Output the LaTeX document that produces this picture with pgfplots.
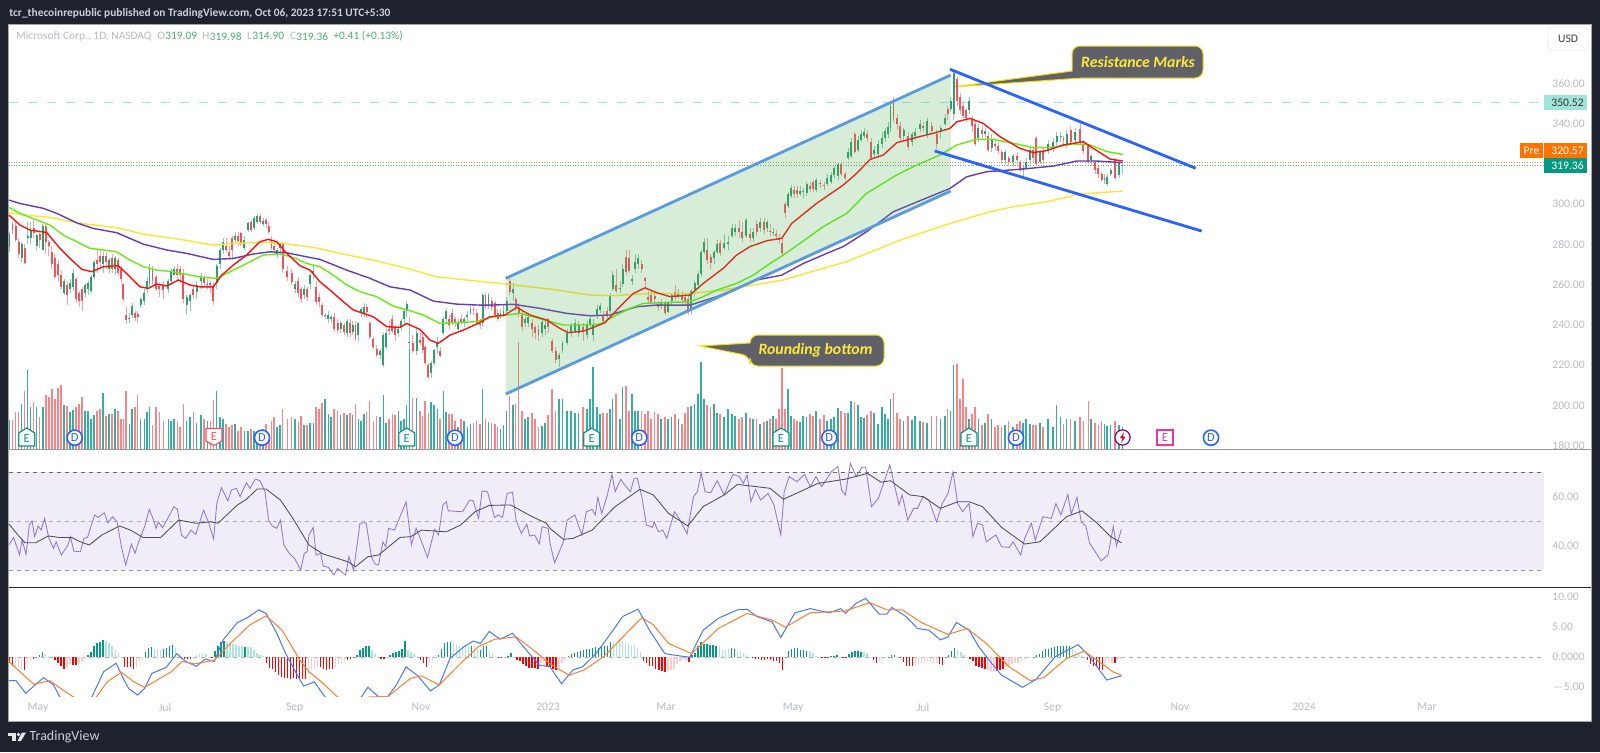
\documentclass[border=0pt]{standalone}
\usepackage{fontspec}
\usepackage{pgfplots}
\usepackage{pgfplotstable}
\pgfplotsset{compat=1.18}
\setmainfont{Carlito}
\definecolor{tvdark}{HTML}{1E222D}
\definecolor{tvlab}{HTML}{B8BBC4}
\definecolor{tvhead}{HTML}{CDD0D8}
\definecolor{upc}{HTML}{2E9E6E}
\definecolor{dnc}{HTML}{F2525C}
\definecolor{upv}{HTML}{35AEA2}
\definecolor{dnv}{HTML}{F88488}
\definecolor{legup}{HTML}{4CAF6E}
\definecolor{rsiband}{HTML}{F0EDF8}
\definecolor{chan}{HTML}{4CAF50}
\definecolor{chanline}{HTML}{5A9BE0}
\definecolor{downline}{HTML}{2962FF}
\definecolor{ma20}{HTML}{FF1010}
\definecolor{ma50}{HTML}{66EE10}
\definecolor{ma100}{HTML}{673AB7}
\definecolor{ma200}{HTML}{FFE433}
\definecolor{hldash}{HTML}{A0E4D9}
\definecolor{calloutbg}{HTML}{5F6068}
\definecolor{calloutln}{HTML}{F5DC10}
\definecolor{calloutxt}{HTML}{FFE93B}
\definecolor{histg}{HTML}{089981}
\definecolor{histlg}{HTML}{ACE5DC}
\definecolor{histr}{HTML}{FF0000}
\definecolor{histp}{HTML}{FCCBCD}

% x o c l h v, x in bar position on the time scale, v in scaled shares
\pgfplotstableread[row sep=\\]{
x o c l h v\\
9.5 278.5 285 276 286 29\\ 12.5 290 287 285 291 29\\ 15.6 289 282 281 291 37\\ 18.6 281 275 273 283 37\\ 21.6 273 280 271 281 45\\
24.6 278 270.5 270 280 58\\ 27.7 283 284 280 291 79\\ 30.7 283 287 280 291 42\\ 33.7 288 285.5 283 292 47\\ 36.7 279 284.5 277 285 42\\
39.7 285 282 278 286 32\\ 42.8 277 289 277 290 42\\ 45.8 289 281 275 290 54\\ 48.8 281 279 274 282 52\\ 51.8 276 270 268 279 60\\
54.8 273 264 263 275 50\\ 57.9 270 265 262 272 61\\ 60.9 265 259 258 267 64\\ 63.9 256 262 255 263 44\\ 66.9 260 255 250 262 43\\
70 258 261 256 263 37\\ 73 259 266 257 268 39\\ 76 263 253 251 264 42\\ 79 256 252 249 257 45\\ 82 258 252 247 259 52\\
85 256 260 254 261 38\\ 88 258 261 255 262 38\\ 91 257 264 256 265 30\\ 94 264 271 263 272 34\\ 97 272 270 266 277 38\\
100 274 271 268 277 40\\ 103 270 274 266 276 56\\ 106 274 271 268 276 33\\ 109 268 272 266 273 35\\ 112 273 268 266 275 35\\
115 268 273 265 274 40\\ 118 272 266 265 273 38\\ 121 268 263 261 269 30\\ 123.3 260.5 253 252 261 30\\ 126 245 242.5 240.5 249 58\\
129.3 243 243.6 241 246 25\\ 132 245 249.5 243.5 251 40\\ 135 246 243.5 242 247 42\\ 137.7 245.5 244 241 247 54\\ 140.7 250 253 248.5 254 30\\
144.3 252 256 250 258 30\\ 147 258 262 256 264 37\\ 149.5 261 268 259 270 42\\ 152.5 268 262 260 269 24\\ 156 264 258 257 265 42\\
159.3 259.5 258 254 261 37\\ 163.3 260 257.5 253 262 28\\ 168.3 258 262 256 263 30\\ 171 262 267 260 268 28\\ 174 265 268 265 269 30\\
177.3 268 265 263 270 28\\ 180 268 265 261 269 22\\ 183.3 266 253 251 268 45\\ 186.7 250 254 245 255 28\\ 190 252 255 247 256 32\\
193.3 258 255 253 260 37\\ 196.7 256.5 260 253 262 26\\ 201 262 264 258 266 34\\ 204 264 261 259 265 30\\ 207.3 260 260.5 258 263 28\\
210.3 261 260 256 262 28\\ 213.3 259.5 252 250 261 49\\ 216.7 261 269 258 270 58\\ 220 270 277 268 278 32\\ 222.9 277 281 275 283 30\\
226 279 277 276 283 25\\ 228.9 276 274 272 279 22\\ 231.9 283 277 272 284 24\\ 235 282 284 280 286 25\\ 237.9 284 281.5 279 286 18\\
240.8 285.5 280 279 286 22\\ 244.3 278 282 277 284 18\\ 248 287 290.5 286 291 18\\ 251 291 287 286 292 20\\ 254 288 293 287 294 18\\
257 291 294 290 295 16\\ 260 294 291 290 295 17\\ 263 290 291.5 289 293 20\\ 266 292 290 288 293 25\\ 268.8 289 286 285 291 15\\
271.5 282 278 277 284 28\\ 274 279 277 275 281 32\\ 276.9 275 277 273 278 22\\ 280 278 280 275 281 24\\ 282.7 280 268 266 281 40\\
287.3 267 264 262 269 30\\ 291.7 266 261.5 260 268 32\\ 295 258 260.5 256 262 30\\ 298.3 262 256 254 264 27\\ 301 258 253 251 259 33\\
304 255 258 253 260 24\\ 306.9 258 254 252 259 24\\ 310 260.5 265 258 266 26\\ 313.3 265.5 267 263 269 26\\ 315.9 259 251.5 250 262 42\\
319 254 251.5 249 256 40\\ 322 250 245 244 251 46\\ 325 244.5 245 243 246 50\\ 328.3 243 245 241 247 35\\ 331.2 243 244 241 245 32\\
334 244 238 237 246 40\\ 337.7 241 237.5 236 243 38\\ 340.7 238 241 236 242 34\\ 344 240 236.5 235 241 36\\ 346.9 236 242 234 243 34\\
350 241 236 234 243 36\\ 352.7 236.5 240 235 242 34\\ 355.4 240 233 232 242 45\\ 358.3 235 241 232 241.5 30\\ 361 246 248 244 249 28\\
364 246 249 244 251 35\\ 366.7 249 246.5 244 250.5 37\\ 369.7 241 234 233 242 48\\ 373.3 233 229 228 234 28\\ 376.7 228 225 224 230 33\\
380 225 227 223 228 32\\ 383.3 220 235 219 236 54\\ 386 229 236 228 238 26\\ 389 238 237 235 242 30\\ 392.3 243 237 236 245 35\\
395 239 235 232 240 34\\ 398.3 236 238 234 240 38\\ 401 239 242 237 243 28\\ 404 243 247 240 248 30\\ 406.7 247 250.5 244 252 44\\
409.3 231 231.3 228 244 102\\ 412.7 231 227 226 235 51\\ 416.7 227 236 225 238 51\\ 420 232.5 231 230 236 38\\ 422.7 234 227.5 226 237 33\\
425 229 221 220 230 48\\ 428.3 220 214 213 221 36\\ 431 216 221 213.5 222 47\\ 434 221 227.5 220 228 44\\ 437.3 229 231 226 234 40\\
440 227 224.5 224 229 30\\ 443.3 236 243 235 244 58\\ 446 243 247 241 248 37\\ 449 243 240 238 245 35\\ 452 246 241.5 240 248 35\\
455 243 241 239 244 28\\ 458 238 241.5 237 243 22\\ 461 243 241.5 240 245 30\\ 464 241 243 239 244 28\\ 467.3 244 245 242 247 22\\
470.5 246 248 245 250 25\\ 473.5 248 247 245 249 26\\ 476.7 246 241 240 248 28\\ 480 241.5 240 238 243 25\\ 482.7 241 255 239 256 60\\
485.5 255 250 248 256 30\\ 488.5 250 255 248 256 27\\ 491.7 252 249 247 254 26\\ 495 251 245 244 252 25\\ 497.7 246 243 242 248 22\\
500.5 244 246 243 248 20\\ 503.5 245 247 244 250 24\\ 506.7 247 252 246 254 38\\ 509.7 262 256.5 255 264 53\\ 513 256 258 252 261 44\\
515.7 253 249 247 254 45\\ 518.7 249 246 244 251 107\\ 522 245 239 237 247 38\\ 525 241 243 239 244 30\\ 528 241 244 239 246 32\\
532 241 238 234 243 36\\ 535 239 236 233 240 30\\ 538.5 238 235 232 240 22\\ 542 236 241.5 234 243 23\\ 545 238 240 235 242 26\\
548 243 239 236 243.5 34\\ 552 232 227 226 233 60\\ 555.7 227 222.5 221 229 38\\ 559 223 225 219 226 50\\ 562.5 227.5 231 226 232 50\\
567 231 236 230 238 38\\ 571 236 239.5 234 241 38\\ 575 237 241 236 243 36\\ 578.7 236 240 234 242 36\\ 583 239 236.5 232 241 42\\
587 235 240 233 242 40\\ 590 240 243 238 245 50\\ 593 235 240 232 243 82\\ 597 245 248 243 250 42\\ 600 247.5 249.5 246 251 35\\
603 245 242 241 247 36\\ 607 247 245 243 249 36\\ 610 247 255 246 256 40\\ 612.7 258 265 257 267 50\\ 616 260 257 256 268 55\\
620 258 258.3 256 262 30\\ 622.7 260.5 268 259 270 62\\ 626 273.8 266.5 265 277 63\\ 629 273 267 266 277 38\\ 632 262 263 260 265 55\\
635 268 271 266 275 38\\ 638 270 273 268 275 38\\ 641.7 270 268 266 272 38\\ 645 263.5 262 258 264 35\\ 648 254 252.5 251 257 38\\
651 255 251.5 250 257 30\\ 654.7 254.5 253 250 257 37\\ 658 250.5 249 247 252 35\\ 661 249.5 251 248 253 30\\ 665 251 246 245 252 32\\
668 246.5 251 246 252 30\\ 671.7 252 255 250 256 32\\ 675 256.5 254 252 260 35\\ 678.3 254 256 253 258 30\\ 682 255 252.5 250 257 25\\
685 254 252 250 256 36\\ 688 253 247 245 255 42\\ 691 247 257 245 258 43\\ 694.7 257 261 254 262 45\\ 698 260 265.5 258 267 55\\
701 265.5 276 264 277 87\\ 704 276 281 275 283 50\\ 707 277 272 270 283 44\\ 710.7 273.8 270.5 268 275 42\\ 714 273 276 270 277 45\\
717 276 280 275 282 36\\ 720 280.5 275.5 274 282 35\\ 724 278 280.5 277 285 32\\ 728 280 281 277 284 40\\ 732 284 288 283 290 35\\
735 286 288 284 290 33\\ 739 288 286 283 292 30\\ 742 286 283 281 291 32\\ 746 284 292 283 293 36\\ 750 285 283 281 288 31\\
753 283 286 281 288 30\\ 756.7 290 286 284 292 30\\ 760 288 291 286 293 25\\ 764 291 287 285 293 27\\ 767 288 291 286 292 28\\
770 286.5 286 284 290 30\\ 773 286 286.3 284 288 33\\ 776 285 284 282 287 30\\ 779 283 282 280 285 40\\ 782 280.5 275.5 274 284 81\\
785 300 295.5 293 301 40\\ 788 299 305 298 306 60\\ 791 304 308 303 309.5 33\\ 794 307 305 303 309 30\\ 797 307 305 303 309 28\\
800 305 306.5 304 309 27\\ 803 306 306.3 303 308 33\\ 806.7 305.5 310 304 311 32\\ 810 309 307.5 306 311 35\\ 813 311 307.5 306 312 33\\
816 307 312 306 313 38\\ 820 310.5 310 308 312 30\\ 824 309.5 309 307 311 34\\ 827 310 313 309 315 28\\ 831 311 314.5 310 316 30\\
834 314.5 318 313 319 32\\ 838 314 320 312 321 41\\ 841 320 315 314 321 38\\ 845 315 313 312 316 36\\ 848 323 326 322 328 36\\
851 324 331 323 333 48\\ 854.7 335 326 325 336 47\\ 858 327 332 326 334 44\\ 861 332 335 331 337 32\\ 864 334 336 333 338 31\\
867 335 333 331 337 34\\ 871 331 323 322 333 38\\ 874 325 327 323 329 36\\ 878 325 330 323 332 25\\ 882 330 333 328 336 42\\
885 333 336.5 331 338 35\\ 888 335 338.5 333 341 30\\ 890.5 338 349 336 351 50\\ 893.5 351 342.5 341 353 56\\ 897 343 340 337 345 36\\
900 339 333 331 341 30\\ 903.7 334 337 332 338 28\\ 908 334 328.5 327 336 33\\ 912 331 335 329 336 29\\ 915 334 336 332 338 33\\
920 337.5 340 336 342 28\\ 923 339 338 336 341 27\\ 927 335 341.5 333 343 26\\ 931.7 339 336.5 335 341 33\\ 936.7 335 330 327.5 337 33\\
940.7 336 338 333 339 30\\ 945 340 343 339 345 33\\ 947.7 347.5 345 342 349 40\\ 950.7 347.5 351 346 353 38\\ 953.7 345 365 342 367 84\\
957 362 351 349 363 85\\ 960 353 347 345 355 50\\ 963 349 344 343 351 70\\ 966 347 343 341 348 42\\ 969 347 351 345 353 30\\
972 342.5 339 336 344 35\\ 975 340 330 329 342 42\\ 978.3 333 338 331 340 30\\ 982 337 335 332 339 24\\ 985 335 336.5 333 338 26\\
988 334 327 326 336 35\\ 991.7 328 332 326 335 30\\ 995 330 329 327 332 22\\ 998 329 326.5 325 331 24\\ 1001.7 326 322 320 327 22\\
1005 322 326 320 327 24\\ 1008.7 323 321 319 324 28\\ 1013 321 324 319 325 22\\ 1017 324 322 320 326 25\\ 1020 321 317 316 322 28\\
1023 317 318 313 319 26\\ 1026 318 321 317 323 30\\ 1030 322 327 320 328 25\\ 1033 327 323 321 329 24\\ 1036 333 320 319 334 24\\
1040 321 326 320 327 26\\ 1043 326 322 320 328 22\\ 1048 327 330 325 332 30\\ 1053 328 331 326 333 22\\ 1056.7 331 334 329 336 44\\
1060.7 333.5 333.8 331 336 32\\ 1063.5 333 332 330 334 25\\ 1066.7 330 335 328 337 30\\ 1070.7 337 331 330 339 30\\ 1075 332 336 330 338 28\\
1080 337.5 331 330 341 32\\ 1083.3 330 326.5 325 332 28\\ 1088.3 329 321 320 330 48\\ 1091.2 322 324 319 325 30\\ 1095 321 317 315 322 26\\
1098.3 318 315 313 319 24\\ 1101.7 315 312 311 316 28\\ 1104.5 312 313 310 315 25\\ 1107 310 313.5 309 315 23\\ 1110.7 315 317 314 318 24\\
1115 322 313 312 323 28\\ 1119 314.5 320.5 313 322 24\\ 1122.5 319.09 319.36 314.9 319.98 22\\
}\candles

% i h k, k: 0 rising above zero, 1 falling above zero, 2 falling below, 3 rising below
\pgfplotstableread[row sep=\\]{
i h k\\
0 -1.0 2\\ 1 -1.4 2\\ 2 -1.8 3\\ 3 -2.0 3\\ 4 -1.9 3\\ 5 -2.2 2\\ 6 -1.0 3\\ 7 -0.6 3\\ 8 -0.3 2\\ 9 0.1 0\\ 10 0.3 0\\ 11 0.9 0\\ 12 0.5 1\\ 13 0.2 1\\ 14 0.1 1\\
15 -0.5 2\\ 16 -1.0 2\\ 17 -1.4 2\\ 18 -2.0 2\\ 19 -1.6 3\\ 20 -1.2 3\\ 21 -1.3 2\\ 22 -1.3 2\\ 23 -1.1 3\\ 24 -0.7 3\\ 25 -0.3 3\\ 26 0.3 0\\ 27 0.9 0\\ 28 1.9 0\\ 29 2.3 0\\
30 2.6 0\\ 31 2.8 0\\ 32 2.7 1\\ 33 2.4 1\\ 34 1.8 1\\ 35 1.3 1\\ 36 0.9 1\\ 37 0.1 1\\ 38 -1.6 2\\ 39 -1.6 2\\ 40 -1.7 2\\ 41 -1.9 2\\ 42 -1.6 3\\ 43 -0.8 3\\ 44 -0.4 3\\
45 0.8 0\\ 46 1.6 0\\ 47 1.7 0\\ 48 1.4 1\\ 49 1.3 1\\ 50 1.2 1\\ 51 1.3 0\\ 52 1.6 0\\ 53 1.9 0\\ 54 2.0 0\\ 55 1.5 1\\ 56 0.2 1\\ 57 -0.3 2\\ 58 -0.3 2\\ 59 -0.3 2\\
60 -0.3 2\\ 61 -0.3 3\\ 62 0.3 1\\ 63 0.6 1\\ 64 0.7 1\\ 65 0.5 1\\ 66 -0.1 3\\ 67 -0.2 2\\ 68 1.0 0\\ 69 1.8 0\\ 70 2.5 0\\ 71 2.7 0\\ 72 2.6 1\\ 73 2.4 1\\ 74 2.2 1\\
75 2.0 1\\ 76 1.9 1\\ 77 1.9 1\\ 78 1.7 0\\ 79 1.7 1\\ 80 1.7 1\\ 81 1.2 1\\ 82 0.7 1\\ 83 0.4 1\\ 84 0.2 1\\ 85 -1.0 2\\ 86 -1.8 2\\ 87 -1.9 2\\ 88 -2.4 2\\ 89 -2.9 2\\
90 -3.3 2\\ 91 -3.4 2\\ 92 -3.5 2\\ 93 -3.6 2\\ 94 -3.5 2\\ 95 -3.6 2\\ 96 -3.6 2\\ 97 -3.7 2\\ 98 -3.7 2\\ 99 -2.7 3\\ 100 -2.2 3\\ 101 -1.9 3\\ 102 -1.6 3\\ 103 -1.7 2\\ 104 -1.9 2\\
105 -2.1 2\\ 106 -2.0 2\\ 107 -2.0 2\\ 108 -1.6 3\\ 109 -1.2 3\\ 110 -0.9 3\\ 111 -0.7 3\\ 112 -0.5 2\\ 113 -0.3 2\\ 114 -0.2 2\\ 115 0.4 0\\ 116 1.2 0\\ 117 1.6 0\\ 118 1.8 0\\ 119 1.9 0\\
120 1.2 1\\ 121 0.6 1\\ 122 0.1 1\\ 123 -0.3 2\\ 124 -0.3 2\\ 125 -0.2 3\\ 126 0.4 0\\ 127 0.7 0\\ 128 0.9 0\\ 129 1.1 0\\ 130 1.4 0\\ 131 2.7 0\\ 132 1.2 1\\ 133 0.9 1\\ 134 0.6 1\\
135 0.2 1\\ 136 -0.4 2\\ 137 -1.0 2\\ 138 -1.6 2\\ 139 -0.9 3\\ 140 -0.5 3\\ 141 -0.2 3\\ 142 0.4 0\\ 143 1.4 0\\ 144 2.3 0\\ 145 2.5 0\\ 146 2.6 0\\ 147 2.3 1\\ 148 2.0 1\\ 149 1.9 1\\
150 1.8 1\\ 151 1.8 1\\ 152 1.8 1\\ 153 1.9 0\\ 154 1.8 1\\ 155 1.4 1\\ 156 1.2 0\\ 157 1.8 0\\ 158 1.8 0\\ 159 1.0 1\\ 160 0.7 1\\ 161 0.2 1\\ 162 -0.1 2\\ 163 -0.2 2\\ 164 -0.1 3\\
165 0.2 0\\ 166 0.7 0\\ 167 0.1 1\\ 168 -0.4 2\\ 169 -0.7 2\\ 170 -1.2 2\\ 171 -1.4 2\\ 172 -1.8 2\\ 173 -1.8 2\\ 174 -1.8 2\\ 175 -1.9 2\\ 176 -1.0 3\\ 177 -0.8 3\\ 178 -1.4 2\\ 179 -1.6 2\\
180 -2.0 2\\ 181 -2.1 2\\ 182 -1.6 3\\ 183 -1.0 3\\ 184 -0.5 3\\ 185 0.2 0\\ 186 0.6 0\\ 187 0.7 0\\ 188 0.9 0\\ 189 1.1 0\\ 190 1.2 0\\ 191 1.3 0\\ 192 1.3 0\\ 193 1.6 0\\ 194 1.7 0\\
195 1.6 0\\ 196 1.7 0\\ 197 1.9 0\\ 198 1.9 0\\ 199 2.6 0\\ 200 2.6 1\\ 201 2.6 1\\ 202 2.7 1\\ 203 2.7 1\\ 204 2.4 1\\ 205 2.3 1\\ 206 2.1 1\\ 207 2.0 1\\ 208 1.5 1\\ 209 0.9 1\\
210 -0.6 2\\ 211 -1.0 2\\ 212 -1.4 2\\ 213 -1.5 2\\ 214 -2.0 2\\ 215 -2.1 2\\ 216 -2.3 2\\ 217 -2.4 2\\ 218 -2.3 3\\ 219 -2.1 3\\ 220 -1.9 3\\ 221 -1.1 3\\ 222 -0.6 3\\ 223 -0.3 3\\ 224 -0.4 3\\
225 -0.8 2\\ 226 0.3 0\\ 227 0.7 0\\ 228 1.8 0\\ 229 2.5 0\\ 230 2.2 0\\ 231 2.2 0\\ 232 2.1 0\\ 233 2.0 0\\ 234 1.9 0\\ 235 1.9 1\\ 236 1.4 1\\ 237 1.2 1\\ 238 1.3 1\\ 239 1.5 0\\
240 1.4 0\\ 241 1.1 1\\ 242 1.0 1\\ 243 0.7 1\\ 244 0.4 1\\ 245 0.1 1\\ 246 -0.2 2\\ 247 -0.3 2\\ 248 -0.3 2\\ 249 -0.4 2\\ 250 -0.4 2\\ 251 -0.3 2\\ 252 -0.5 2\\ 253 -0.6 2\\ 254 -0.7 2\\
255 -1.0 2\\ 256 -2.1 2\\ 257 0.1 0\\ 258 1.1 0\\ 259 1.4 0\\ 260 1.5 0\\ 261 1.5 0\\ 262 1.2 0\\ 263 1.2 0\\ 264 1.0 0\\ 265 1.0 1\\ 266 0.7 1\\ 267 0.2 1\\ 268 0.1 1\\ 269 -0.1 2\\
270 -0.1 2\\ 271 0.1 0\\ 272 0.2 0\\ 273 0.2 0\\ 274 0.4 0\\ 275 0.1 1\\ 276 -0.2 2\\ 277 -0.2 2\\ 278 0.6 0\\ 279 0.9 0\\ 280 1.0 0\\ 281 1.0 0\\ 282 0.9 0\\ 283 0.9 1\\ 284 0.7 1\\
285 0.1 1\\ 286 -0.5 2\\ 287 -1.0 2\\ 288 -0.6 3\\ 289 -0.4 3\\ 290 -0.2 3\\ 291 0.1 0\\ 292 0.3 0\\ 293 0.4 0\\ 294 0.1 1\\ 295 -0.2 2\\ 296 -0.8 2\\ 297 -1.4 2\\ 298 -1.5 2\\ 299 -1.5 2\\
300 -1.3 3\\ 301 -1.1 3\\ 302 -1.0 3\\ 303 -0.8 3\\ 304 -0.7 3\\ 305 -0.8 3\\ 306 -1.0 3\\ 307 -1.0 3\\ 308 -1.2 2\\ 309 -1.3 2\\ 310 0.1 0\\ 311 0.3 0\\ 312 1.1 0\\ 313 1.5 0\\ 314 1.2 1\\
315 0.8 1\\ 316 0.3 1\\ 317 0.1 1\\ 318 -0.3 2\\ 319 -0.6 2\\ 320 -1.4 2\\ 321 -1.7 2\\ 322 -1.8 2\\ 323 -2.0 2\\ 324 -2.1 3\\ 325 -2.3 3\\ 326 -2.4 3\\ 327 -2.3 2\\ 328 -2.1 2\\ 329 -2.0 2\\
330 -1.6 3\\ 331 -1.3 3\\ 332 -1.1 3\\ 333 -1.0 3\\ 334 -0.9 3\\ 335 -0.7 3\\ 336 -0.4 3\\ 337 -0.2 3\\ 338 -0.1 3\\ 339 0.1 0\\ 340 0.4 0\\ 341 0.6 0\\ 342 1.0 0\\ 343 1.3 0\\ 344 1.4 0\\
345 1.6 0\\ 346 1.7 0\\ 347 1.8 0\\ 348 1.8 0\\ 349 1.8 0\\ 350 1.8 0\\ 351 1.9 0\\ 352 1.4 1\\ 353 1.0 1\\ 354 0.7 1\\ 355 0.3 1\\ 356 0.1 1\\ 357 -0.5 2\\ 358 -1.1 2\\ 359 -1.5 2\\
360 -1.6 2\\ 361 -1.9 2\\ 362 -2.1 2\\ 363 -1.5 3\\ 364 -1.0 3\\ 365 -0.9 3\\ 366 -0.9 2\\ 367 -0.4 3\\ 368 -0.3 3\\
}\histo

\pgfplotsset{
  pane/.style={scale only axis, width=767.75pt, xmin=8.5, xmax=1544,
    axis line style={draw=none}, major tick length=0pt, xtick=\empty, clip=true,
    yticklabel pos=right,
    tick label style={font=\fontsize{5.8}{7}\selectfont, text=tvlab, inner sep=0pt},
    yticklabel style={anchor=west, xshift=4pt}},
  stick/.style 2 args={draw=none, mark=none, forget plot, error bars/.cd, y dir=plus, y explicit, error mark=none,
    error bar style={draw=#1, line width=#2}},
}

\begin{document}
\begin{tikzpicture}
\useasboundingbox (0,0) rectangle (800pt,376pt);
\fill[tvdark] (0,0) rectangle (800pt,376pt);
\begin{scope}[x=0.5pt,y=-0.5pt,shift={(0,-752)}]
  \fill[white] (8.5,24) rectangle (1591,721);
  \draw[line width=.5pt,draw=black!35] (8.5,24) rectangle (1591,721);
  \node[anchor=west,inner sep=0pt,text=tvhead,font=\fontsize{5.7}{8}\selectfont\bfseries] at (9,13)
    {tcr\_thecoinrepublic published on TradingView.com, Oct 06, 2023 17:51 UTC+5:30};
  \begin{scope}[every node/.style={anchor=west,inner sep=0pt,font=\fontsize{5.7}{8}\selectfont}]
    \node[text=tvlab] at (15.7,36.3) {Microsoft Corp., 1D, NASDAQ};
    \node[text=tvlab] at (157,36.3) {O};  \node[text=legup] at (165,36.3) {319.09};
    \node[text=tvlab] at (202,36.3) {H};  \node[text=legup] at (209.5,36.3) {319.98};
    \node[text=tvlab] at (246.6,36.3) {L}; \node[text=legup] at (252,36.3) {314.90};
    \node[text=tvlab] at (289.6,36.3) {C}; \node[text=legup] at (296,36.3) {319.36};
    \node[text=legup] at (333,36.3) {+0.41 (+0.13\%)};
  \end{scope}
  % callouts sit under the candles and trend lines
  \filldraw[fill=calloutbg,draw=calloutln,line width=.5pt,rounded corners=4]
    (1072,71)--(1072,46)--(1203,46)--(1203,78)--(1082,78)[sharp corners]--(953,87)--cycle;
  \node[text=calloutxt,inner sep=0pt,font=\fontsize{7.9}{9}\selectfont\bfseries\itshape] at (1138,62) {Resistance Marks};
  \filldraw[fill=calloutbg,draw=calloutln,line width=.5pt,rounded corners=4]
    (750,343)--(750,335)--(884,335)--(884,366)--(750,366)--(750,356)[sharp corners]--(700,346)--cycle;
  \node[text=calloutxt,inner sep=0pt,font=\fontsize{7.9}{9}\selectfont\bfseries\itshape] at (815.5,350.7) {Rounding bottom};
\end{scope}

% volume, same frame as the price pane
\begin{axis}[pane, at={(4.25pt,151.5pt)}, anchor=south west, height=212.5pt, ymin=0, ymax=425, ytick=\empty]
  \addplot[ycomb, draw=upv, line width=.75pt, forget plot] table[x expr={\thisrow{c}>=\thisrow{o} ? \thisrow{x} : nan}, y=v] {\candles};
  \addplot[ycomb, draw=dnv, line width=.75pt, forget plot] table[x expr={\thisrow{c}<\thisrow{o} ? \thisrow{x} : nan}, y=v] {\candles};
\end{axis}

% price pane
\begin{axis}[pane, at={(4.25pt,151.5pt)}, anchor=south west, height=212.5pt, ymin=178.3, ymax=389.5,
    ytick={180,200,220,240,260,280,300,340,360},
    yticklabels={180.00,200.00,220.00,240.00,260.00,280.00,300.00,340.00,360.00}]
  \addplot[hldash, line width=.8pt, dash pattern=on 4.5pt off 5pt] coordinates {(8.5,350.52)(1544,350.52)};
  \addplot[orange!80!white, line width=.3pt, dash pattern=on .4pt off .9pt] coordinates {(8.5,320.57)(1544,320.57)};
  \addplot[histg!80!white, line width=.3pt, dash pattern=on .4pt off .9pt] coordinates {(8.5,319.36)(1544,319.36)};
  % wicks then bodies
  \addplot[stick={upc!55!white}{.4pt}] table[x expr={\thisrow{c}>=\thisrow{o} ? \thisrow{x} : nan}, y=l, y error expr=\thisrow{h}-\thisrow{l}] {\candles};
  \addplot[stick={dnc!55!white}{.4pt}] table[x expr={\thisrow{c}<\thisrow{o} ? \thisrow{x} : nan}, y=l, y error expr=\thisrow{h}-\thisrow{l}] {\candles};
  \addplot[stick={upc}{.9pt}] table[x expr={\thisrow{c}>=\thisrow{o} ? \thisrow{x} : nan}, y=o, y error expr=\thisrow{c}-\thisrow{o}] {\candles};
  \addplot[stick={dnc}{.9pt}] table[x expr={\thisrow{c}<\thisrow{o} ? \thisrow{x} : nan}, y=c, y error expr=\thisrow{o}-\thisrow{c}] {\candles};
  % moving averages
  \addplot[ma200, line width=.7pt] coordinates {(9,295.7)(26.7,294.5)(50,293.4)(76.7,290.7)(116.7,288.3)(143.3,285.1)(180,282.5)(213.3,279.6)(233.3,280.5)(260,281)(283.3,280.5)(313.3,278.5)(340,275.5)(373.3,272.2)(406.7,268.1)(436.7,263.9)(466.7,262.3)(500,260.6)(523.3,259.3)(553.3,257.6)(590,254.8)(613.3,254.5)(650,255.6)(690,255.6)(723.3,257.3)(753.3,259.8)(783.3,262.3)(816.7,267.2)(846.7,271.4)(900,282.1)(950,290.4)(990,296.2)(1013.3,298.7)(1046.7,301.2)(1080,305)(1122.7,306.5)};
  \addplot[ma100, line width=.7pt] coordinates {(9,302)(20,300.3)(43.3,297.9)(56.7,295.4)(76.7,290.7)(93.3,287.9)(116.7,285.8)(143.3,280.1)(166.7,277.2)(186.7,275.5)(213.3,272.5)(233.3,273)(253.3,275.2)(270,276.3)(286.7,275.8)(306.7,273.8)(320,272.5)(346.7,267.2)(370,263.1)(390,258.9)(410,257.3)(433.3,251.8)(456.7,250.3)(480,249.8)(490,249.8)(513.3,250.2)(540,248.2)(566.7,245.7)(590,244.5)(610,244.9)(636.7,249)(656.7,249.8)(690,249.8)(716.7,254)(736.7,258.1)(756.7,262.3)(781.7,264.7)(803.3,270.5)(826.7,275.5)(843.3,278.9)(866.7,286.3)(893.3,296.2)(920,301.7)(950,307.8)(966.7,313.6)(986.7,316.1)(1020,317.3)(1053.3,318.9)(1076.7,321.4)(1096.7,321.4)(1122.7,320.6)};
  \addplot[ma50, line width=.7pt] coordinates {(9,298.4)(20,295.4)(36.7,292.1)(50,289.6)(63.3,284.6)(76.7,281.3)(90,278)(103.3,277.2)(116.7,276.3)(130,272.2)(143.3,268.9)(156.7,267.2)(173.3,266.4)(190,264.7)(203.3,263.6)(216.7,263.1)(230,266.4)(246.7,270.5)(263.3,274.7)(280,275.2)(293.3,273.5)(306.7,270.5)(320,268.9)(333.3,264.7)(346.7,259.8)(360,256.5)(376.7,254)(393.3,249.3)(410,247)(423.3,244.9)(440,240.7)(456.7,241.1)(476.7,241.6)(490,243.7)(506.7,244.9)(520,245.7)(533.3,244)(546.7,242.1)(563.3,239.9)(583.3,239.9)(600,240.4)(613.3,244)(630,248.2)(643.3,250.7)(663.3,251)(690,251.5)(703.3,254)(716.7,257.3)(736.7,260.6)(753.3,264.7)(770,270.5)(780,273.6)(800,280.5)(823.3,288.8)(846.7,295.4)(866.7,305.4)(896.7,314.5)(916.7,319.4)(940,324.4)(956.7,329.4)(976.7,332.2)(993.3,332.2)(1016.7,329.9)(1033.3,328)(1053.3,328.2)(1073.3,329.9)(1090,329.4)(1106.7,326.1)(1122.7,324.7)};
  \addplot[ma20, line width=.7pt] coordinates {(9,294.5)(20,289.6)(30,287.1)(46.7,285.9)(60,278)(71.7,272.2)(81.7,267.6)(91.7,266.4)(103.3,268.9)(118.3,269.4)(128.3,264.7)(140,258.9)(148.3,258.1)(156.7,260.3)(166.7,259.3)(178.3,262.3)(190,259.8)(200,258.9)(213.3,258.9)(221.7,264.7)(233.3,269.7)(246.7,274.7)(260,281.3)(268.3,282.5)(276.7,281.3)(286.7,275.5)(300,269.4)(310,267.2)(320,261.4)(330,257.3)(343.3,251.5)(353.3,247.4)(363.3,245.7)(373.3,244)(386.7,239.1)(400,238.7)(406.7,240.7)(420,237.7)(430,232.4)(438.3,230.8)(450,234.9)(463.3,237.4)(476.7,240.4)(490,244)(505,244.9)(516.7,248.7)(530,244.9)(546.7,242.4)(560,238.2)(568.3,236.1)(583.3,236.9)(593.3,238.7)(605,241.1)(618.3,248.2)(633.3,255.6)(645,258.4)(656.7,256)(670,254)(690,254.8)(703.3,260.6)(723.3,268.1)(736.7,274.7)(750,278.9)(766.7,281.8)(781.7,283)(791.7,290.4)(816.7,300.4)(843.3,309.5)(856.7,315.3)(870,322.2)(883.3,324.4)(896.7,330.5)(916.7,333.2)(933.3,335.2)(950,337.6)(956.7,340.9)(970,342.6)(983.3,340.1)(1000,333.5)(1020,327.7)(1033.3,325.6)(1046.7,326.6)(1063.3,329.4)(1083.3,331)(1093.3,327.7)(1110,322.4)(1122.7,321.4)};
  % rising channel, falling channel
  \addplot[fill=chan, fill opacity=.22, draw=none] coordinates {(505.7,263.1)(950.7,364.1)(950.7,306.5)(505.7,205.6)} --cycle;
  \addplot[chanline, line width=1.4pt] coordinates {(505.7,263.1)(950.7,364.1)};
  \addplot[chanline, line width=1.4pt] coordinates {(505.7,205.6)(950.7,306.5)};
  \addplot[downline, line width=1.4pt] coordinates {(950,367)(1195.7,317.8)};
  \addplot[downline, line width=1.4pt] coordinates {(934.7,326.4)(1201.7,286.6)};
\end{axis}

% RSI pane
\begin{axis}[pane, at={(4.25pt,82.5pt)}, anchor=south west, height=69pt, ymin=23.1, ymax=79.6,
    ytick={40,60}, yticklabels={40.00,60.00}]
  \addplot[fill=rsiband, draw=none] coordinates {(8.5,30)(1544,30)(1544,70)(8.5,70)} --cycle;
  \addplot[black!60, line width=.4pt, dash pattern=on 2pt off 2pt] coordinates {(8.5,70)(1544,70)};
  \addplot[black!30, line width=.4pt, dash pattern=on 2pt off 2pt] coordinates {(8.5,50)(1544,50)};
  \addplot[black!40, line width=.4pt, dash pattern=on 2pt off 2pt] coordinates {(8.5,30)(1544,30)};
  \addplot[color={rgb,255:red,148;green,115;blue,210}, line width=.42pt] coordinates {(8.9,40.3)(13.6,43.4)(19.6,36.2)(22.1,42.3)(26.1,36.4)(29.3,48.5)(32.1,50.2)(34.6,43.7)(38.2,48.1)(41.1,46.4)(44.6,51.2)(48.9,43)(53.6,38.9)(56.1,41.6)(61.4,36.2)(67.9,40.3)(70.4,43.7)(73.9,37.8)(80.4,37.5)(83.9,43)(87.5,43.4)(94.6,52.6)(98.2,51.6)(104.3,53.5)(107.9,49.4)(112.5,51.9)(117.1,49.8)(121.4,39.6)(125.7,32.1)(131.4,40.7)(135,36.9)(139.3,42.3)(144.6,47.8)(149.3,54.9)(153.6,50.5)(156.1,47.1)(158.2,49.8)(162.5,47.4)(169.6,52.6)(173.9,56)(177.5,54.9)(181.4,44.4)(185.7,43)(191.1,46.4)(195.7,44.6)(203.6,54.6)(208.9,49.2)(213.6,42.7)(216.8,57.3)(221.4,63.8)(227.9,58.4)(231.4,62.8)(236.4,63.5)(240,60.1)(246.4,65.8)(250,63.5)(255.4,67.3)(260,66.6)(265,62.1)(268.6,50.5)(272.1,48.1)(276.8,47.1)(280.4,50.5)(283.9,40.3)(289.3,36.9)(294.6,34.8)(300.7,30)(304.3,36.9)(307.1,37.5)(308.9,44.4)(313.2,47.5)(316.1,36.2)(320.7,36.9)(323.2,31.7)(328.6,31.1)(333.9,28)(337.5,30.7)(345.7,28)(348.9,35.5)(353.6,30)(360,49.2)(366.1,49.4)(371.4,35.5)(375,32.5)(378.6,32.1)(382.9,41.6)(385.7,39.6)(388.6,47.1)(394.6,46.4)(399.3,51.2)(406.1,58)(411.4,40.3)(416.1,47.1)(419.6,43.7)(427.5,35.2)(434.6,46.7)(438.6,44.4)(442.9,56.7)(446.4,58)(448.2,54.3)(462.5,53.9)(469.6,58.7)(473.2,58.4)(478.6,51.2)(482.1,62.4)(487.5,62.1)(494.6,51.5)(498.2,52.6)(502.5,51.6)(507.1,61.4)(512.5,61.9)(516.1,50.5)(521.4,45)(526.8,48.9)(529.6,44)(534.6,44.4)(539.3,40.7)(542.1,47.8)(548.2,47.1)(550,41)(554.6,33)(563.4,41.6)(567.2,50.5)(574.9,52.6)(581.8,44.4)(586.4,53.9)(592.1,54.9)(595.2,52.6)(597.8,59.8)(601.7,53.2)(607.4,60.8)(612,69.2)(615.1,62.1)(620.8,67.2)(624.6,64.9)(630.4,62.1)(634.2,67.6)(637.3,67.6)(641.8,60.1)(646.4,48.5)(652.6,47.5)(654.1,49.8)(658.3,45.7)(662.9,46.4)(666.7,43)(674.4,53.9)(680.1,50.5)(687,44.8)(693.5,60.1)(697.3,62.1)(701.2,69.9)(705,62.1)(710.7,61.7)(717.2,66.6)(724.1,60.8)(732.9,69.2)(739.4,68.3)(743.3,65.5)(747.1,69)(750.9,58)(755.5,63.1)(760.5,58.7)(768.1,61.4)(773.9,56.7)(780.8,44.4)(784.2,62.1)(789.2,68.3)(796.8,66.2)(804.5,69.2)(810.2,64.2)(816,68.3)(821.7,64.2)(831.3,70.3)(837.8,72.4)(841.6,62.8)(845.4,60.8)(850.4,73.7)(856.2,68.3)(861.9,72.1)(865.7,72.1)(871.5,56)(878.4,59.4)(883,64.9)(889.8,73.1)(899,56.7)(902.1,60.8)(907.8,50.5)(913.6,55.3)(917.4,55.3)(923.1,60.1)(928.9,58.7)(936.5,49.8)(942.3,57.3)(948,61.4)(953,70.3)(957.6,57.3)(962.6,53.9)(969.1,57.3)(972.9,43.7)(977.5,49.2)(982.5,48.5)(986.3,41.6)(995.8,44.4)(1001.6,39.6)(1009.2,39.3)(1013.1,41.6)(1020.7,36.2)(1024.6,43)(1031.4,49.2)(1035.3,42.3)(1042.9,51.9)(1051.3,51.2)(1055.9,57.3)(1060.9,52.6)(1067.8,61)(1071.2,53)(1077,59.8)(1081.2,49.8)(1085.8,48.1)(1089.6,41)(1094.2,38.2)(1101.1,33.8)(1108,36.2)(1113.3,47.8)(1116.4,39.9)(1121.4,46.7)};
  \addplot[black!70, line width=.42pt] coordinates {(8.9,48.9)(17.9,44.4)(25,41.2)(35.7,41.2)(48.2,44)(58.9,43.4)(71.4,43.4)(80.4,41.6)(89.3,40.3)(101.8,44.4)(119.6,48.1)(130.4,46.4)(142.9,43.4)(160.7,43.4)(178.6,50.5)(196.4,49.2)(210.7,49.8)(217.9,49.2)(237.5,56.7)(246.4,59)(257.1,63.2)(266.1,63.2)(280.4,58.7)(292.9,51.2)(308.9,40.3)(323.2,36.6)(337.5,34.8)(348.2,33.4)(355.4,31.4)(367.9,35.5)(378.6,36.2)(400,43.4)(410.7,43.7)(421.4,46.4)(446.4,45.7)(460.7,48.5)(475,53.9)(489.3,56.5)(510.7,56.7)(532.1,51.9)(546.4,49.2)(550,47.1)(563.4,42.6)(573,43)(592.1,46.4)(615.1,56)(639.9,63.1)(653.3,60.8)(668.6,53.2)(687.8,48.1)(703.1,56)(724.1,60.8)(737.5,65.1)(770.1,63.5)(783.4,59)(817.9,65.5)(844.7,67.2)(867.6,69.6)(881,66)(890.6,66.6)(909.7,60.8)(923.1,60.1)(940.4,55.3)(957.6,58)(969.1,58)(982.5,56)(1001.6,47.5)(1024.6,40.7)(1039.9,41.6)(1066.6,51.9)(1082,54.3)(1097.3,49.2)(1110.7,43.7)(1121.4,41.2)};
\end{axis}

% MACD pane, carries the time scale
\begin{axis}[pane, at={(4.25pt,27.65pt)}, anchor=south west, height=54.85pt, ymin=-6.57, ymax=11.7,
    ytick={-5,0,5,10}, yticklabels={$-$5.00,0.0000,5.00,10.00},
    xtick={38,165,294.6,421,548,666,793,923,1052.5,1180,1304,1427},
    xticklabels={May,Jul,Sep,Nov,2023,Mar,May,Jul,Sep,Nov,2024,Mar},
    xticklabel style={yshift=-3pt}]
  \addplot[black!30, line width=.4pt, dash pattern=on 2pt off 2pt] coordinates {(8.5,0)(1544,0)};
  \addplot[ycomb, draw=histg, line width=.7pt] table[x expr={\thisrow{k}==0 ? 9.5+3.02*\thisrow{i} : nan}, y=h] {\histo};
  \addplot[ycomb, draw=histlg, line width=.7pt] table[x expr={\thisrow{k}==1 ? 9.5+3.02*\thisrow{i} : nan}, y=h] {\histo};
  \addplot[ycomb, draw=histr, line width=.7pt] table[x expr={\thisrow{k}==2 ? 9.5+3.02*\thisrow{i} : nan}, y=h] {\histo};
  \addplot[ycomb, draw=histp, line width=.7pt] table[x expr={\thisrow{k}==3 ? 9.5+3.02*\thisrow{i} : nan}, y=h] {\histo};
  \addplot[color={rgb,255:red,70;green,120;blue,250}, line width=.5pt] coordinates {(8.9,-3.9)(16.1,-3.9)(25.7,-6)(33.9,-4.8)(43.6,-3.4)(53.6,-4.6)(60.7,-6.9)(75,-9)(91.1,-6.9)(103.6,-2.4)(116.1,-1)(123.2,-3.5)(128.6,-5.2)(137.5,-6.3)(144.6,-5.2)(151.8,-2.7)(166.1,-1.7)(176.8,0.6)(185.7,-0.7)(196.4,-1.5)(205.4,-0.3)(214.3,-0.7)(223.2,2.9)(237.5,5.8)(246.4,6.5)(258.9,7.9)(266.1,7.3)(276.8,4)(285.7,0.6)(296.4,-2.7)(303.6,-4.8)(314.3,-4.1)(325,-6.6)(345,-9)(361.4,-6.6)(367.9,-5)(378.6,-6.6)(387.5,-6.6)(396.4,-4.6)(406.1,-1.6)(417.9,-3.1)(430.4,-5.6)(439.3,-4.6)(450,-0.2)(464.3,1.8)(473.2,2.7)(480.4,2.3)(489.3,4.3)(500,3)(512.5,4)(523.2,1.8)(539.3,-1.3)(550,-1.6)(561.5,-4.4)(573,-2.1)(582.5,-1.6)(595.9,0.6)(613.1,4.5)(622.7,6.8)(638,8)(649.5,4.5)(664.8,0.6)(672.5,0.4)(689.7,0)(703.1,4.5)(718.4,6.5)(737.5,7.9)(747.1,8)(756.7,6.8)(772,5.9)(780.8,3.3)(794.9,7.4)(810.2,8.1)(829.4,7.4)(840.9,8.1)(845.4,7.3)(856.2,9)(865.7,9.8)(879.1,7.2)(886.8,7.2)(891.8,8.3)(905.9,6.8)(917.4,4.8)(928.9,4.5)(940.4,2.9)(948,3.4)(956.4,5.8)(969.1,4.5)(978.6,1.8)(990.1,-0.7)(1001.6,-3)(1022.6,-5)(1036,-3.7)(1055.2,0.1)(1078.1,2.1)(1089.6,0.1)(1106.8,-3.8)(1114.5,-3.4)(1121.4,-3.1)};
  \addplot[color={rgb,255:red,255;green,125;blue,40}, line width=.5pt] coordinates {(8.9,-0.7)(25,-3.2)(33.9,-4.5)(50,-3.9)(60.7,-5.2)(73.2,-6.6)(85,-7.6)(96.4,-6.6)(107.1,-4.1)(121.4,-2.5)(133.9,-4.1)(144.6,-5)(157.1,-3.8)(171.4,-2.4)(182.1,-0.7)(194.6,-1.1)(214.3,-0.5)(232.1,2.6)(250,5.4)(266.1,6.9)(282.1,4.5)(300,-0.5)(308.9,-2.4)(321.4,-4.1)(337.5,-6.6)(352,-7.5)(369.6,-6.6)(387.5,-6.6)(400,-4.9)(410.7,-3.5)(421.4,-3.1)(439.3,-4.6)(460.7,-1)(478.6,1.8)(494.6,3)(516.1,3.4)(535.7,0.9)(550,-1.1)(569.1,-3)(584.4,-2.1)(603.6,0.1)(641.8,6.6)(653.3,5.4)(668.6,2.3)(691.6,0.6)(718.4,4.8)(747.1,7.3)(772,6.2)(785.4,5)(810.2,7.4)(844.7,7.7)(869.6,9.1)(886.8,7.9)(902.1,7.9)(921.2,5.8)(948,3.8)(967.1,4.8)(986.3,2.3)(1009.2,-1.6)(1030.3,-3.9)(1043.7,-3.4)(1066.6,-0.2)(1083.9,1)(1097.3,-0.5)(1112.6,-2.4)(1121.4,-3)};
\end{axis}

\begin{scope}[x=0.5pt,y=-0.5pt,shift={(0,-752)}]
  % pane separators
  \draw[line width=.5pt,draw=black!40] (8.5,449)--(1591,449);
  \draw[line width=.5pt,draw=black!85] (8.5,587)--(1591,587);
  % event flags on the time scale
  \newcommand{\flagE}[3]{\filldraw[fill=white,draw=#2,line width=.6pt] (#1-8,446)--(#1-8,433)--(#1,#3)--(#1+8,433)--(#1+8,446)--cycle;
    \node[text=#2,inner sep=0pt,font=\fontsize{6.2}{7}\selectfont] at (#1,438.5) {E};}
  \newcommand{\flagD}[1]{\filldraw[fill=white,draw=downline,line width=.8pt] (#1,437.7) circle (7.6);
    \node[text=downline,inner sep=0pt,font=\fontsize{6.2}{7}\selectfont] at (#1,437.7) {D};}
  \flagE{26.7}{histg}{428}\flagD{74.7}
  \filldraw[fill=white,draw=dnc,line width=.6pt] (206,428.5)--(222,428.5)--(222,441)--(214,445.5)--(206,441)--cycle;
  \node[text=dnc,inner sep=0pt,font=\fontsize{6.2}{7}\selectfont] at (214,436.5) {E};
  \flagD{262}\flagE{406.7}{histg}{428}\flagD{455}
  \flagE{591.7}{histg}{428}\flagD{639.3}\flagE{781}{histg}{428}\flagD{829.3}
  \flagE{969}{histg}{428}\flagD{1016}
  \filldraw[fill=white,draw=violet,line width=.6pt] (1122.5,437.5) circle (7.6);
  \fill[red!80!violet] (1124,432)--(1120,438)--(1122.5,438)--(1121,443)--(1125.5,436.5)--(1123,436.5)--cycle;
  \draw[line width=.6pt,draw=magenta!80!white,fill=white] (1157,430) rectangle (1173,445);
  \node[text=magenta!80!white,inner sep=0pt,font=\fontsize{6.2}{7}\selectfont] at (1165,437.5) {E};
  \flagD{1211}
  % price scale tags
  \filldraw[fill=white,draw=black!8,line width=.4pt,rounded corners=1.5] (1548,27) rectangle (1588,50);
  \node[text=black!75,inner sep=0pt,font=\fontsize{5.8}{7}\selectfont] at (1568,38.5) {USD};
  \fill[hldash] (1544,95) rectangle (1587,110);
  \node[anchor=west,text=black!80,inner sep=0pt,font=\fontsize{5.8}{7}\selectfont] at (1551,102.5) {350.52};
  \fill[orange!90!red] (1520,143) rectangle (1543,158);
  \node[text=white,inner sep=0pt,font=\fontsize{5.8}{7}\selectfont] at (1531.5,150.5) {Pre};
  \fill[orange!90!red] (1544,143) rectangle (1587,158);
  \node[anchor=west,text=white,inner sep=0pt,font=\fontsize{5.8}{7}\selectfont] at (1551,150.5) {320.57};
  \fill[histg] (1544,158) rectangle (1587,172.5);
  \node[anchor=west,text=white,inner sep=0pt,font=\fontsize{5.8}{7}\selectfont] at (1551,165.2) {319.36};
  % footer mark
  \fill[white!90!black] (8,732.5) rectangle (16,735.5);
  \fill[white!90!black] (12,732.5) rectangle (16,741);
  \fill[white!90!black] (18.5,734.5) circle (1.8);
  \fill[white!90!black] (21,741)--(26,732.5)--(22,732.5)--(17.5,741)--cycle;
  \node[anchor=west,text=tvhead,inner sep=0pt,font=\fontsize{7}{8}\selectfont] at (29.3,736.5) {TradingView};
\end{scope}
\end{tikzpicture}
\end{document}
